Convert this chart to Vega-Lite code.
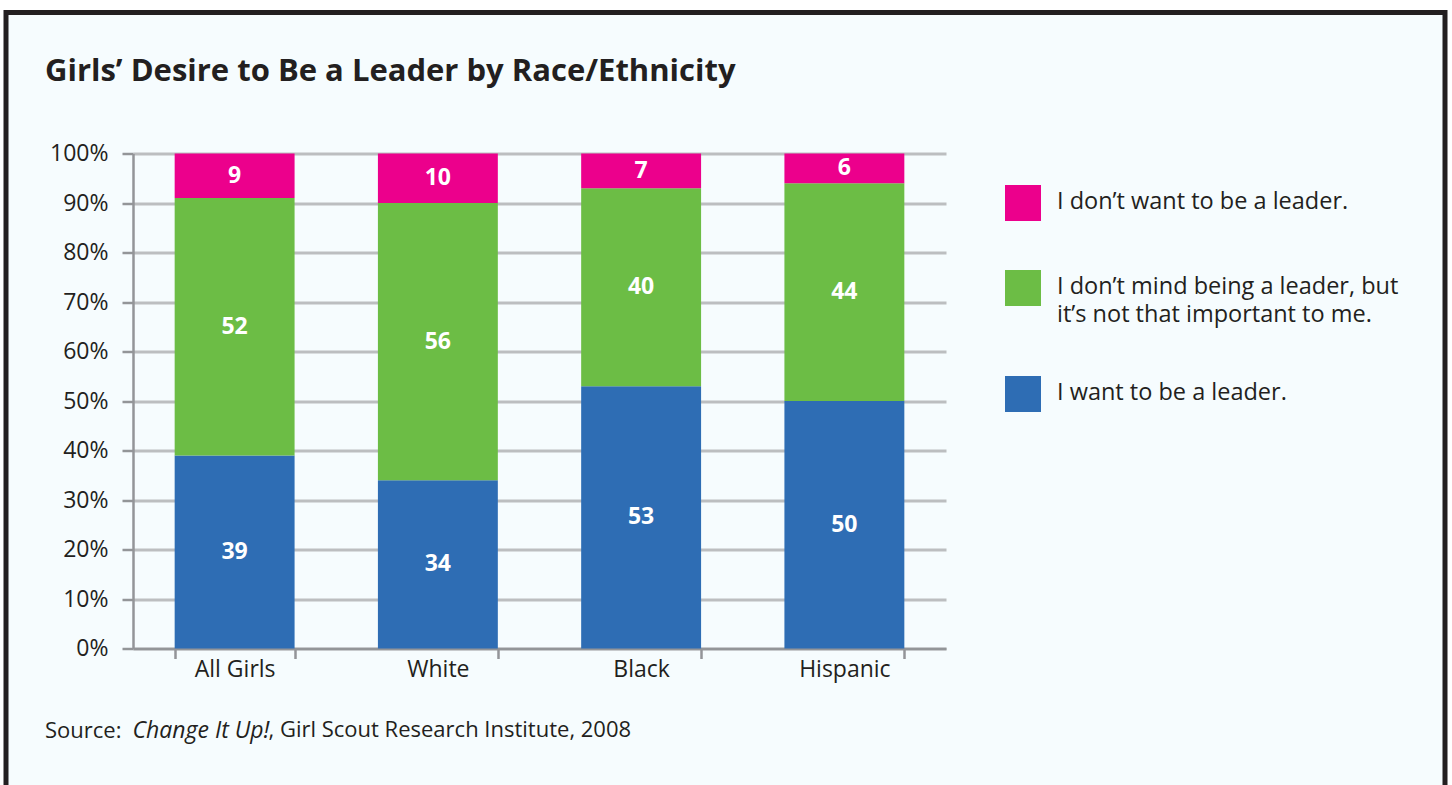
{
  "$schema": "https://vega.github.io/schema/vega-lite/v6.json",
  "width": 1439,
  "height": 790,
  "autosize": {"type": "none"},
  "padding": {"left": 6, "top": 12.5, "right": 7, "bottom": 0},
  "background": "white",
  "title": {
    "text": "Girls’ Desire to Be a Leader by Race/Ethnicity",
    "subtitle": "Source:",
    "anchor": "start",
    "frame": "group",
    "baseline": "alphabetic",
    "offset": 0,
    "dx": 39,
    "dy": 754,
    "font": "Open Sans",
    "fontSize": 31,
    "fontWeight": "bold",
    "color": "#231f20",
    "subtitleFont": "Open Sans",
    "subtitleFontSize": 22,
    "subtitleColor": "#231f20",
    "subtitlePadding": 626
  },
  "data": {
    "values": [
      {"group": "All Girls", "answer": "I want to be a leader.", "ord": 1, "value": 39},
      {"group": "All Girls", "answer": "I don’t mind being a leader, but it’s not that important to me.", "ord": 2, "value": 52},
      {"group": "All Girls", "answer": "I don’t want to be a leader.", "ord": 3, "value": 9},
      {"group": "White", "answer": "I want to be a leader.", "ord": 1, "value": 34},
      {"group": "White", "answer": "I don’t mind being a leader, but it’s not that important to me.", "ord": 2, "value": 56},
      {"group": "White", "answer": "I don’t want to be a leader.", "ord": 3, "value": 10},
      {"group": "Black", "answer": "I want to be a leader.", "ord": 1, "value": 53},
      {"group": "Black", "answer": "I don’t mind being a leader, but it’s not that important to me.", "ord": 2, "value": 40},
      {"group": "Black", "answer": "I don’t want to be a leader.", "ord": 3, "value": 7},
      {"group": "Hispanic", "answer": "I want to be a leader.", "ord": 1, "value": 50},
      {"group": "Hispanic", "answer": "I don’t mind being a leader, but it’s not that important to me.", "ord": 2, "value": 44},
      {"group": "Hispanic", "answer": "I don’t want to be a leader.", "ord": 3, "value": 6}
    ]
  },
  "encoding": {
    "x": {
      "field": "group",
      "type": "nominal",
      "sort": ["All Girls", "White", "Black", "Hispanic"],
      "scale": {"range": [127, 940], "paddingInner": 0.41, "paddingOuter": 0.205},
      "axis": {
        "title": ", Girl Scout Research Institute, 2008",
        "offset": -154,
        "titleFont": "Open Sans",
        "titleFontSize": 22,
        "titleFontWeight": "normal",
        "titleColor": "#231f20",
        "titleAnchor": "start",
        "titleAlign": "left",
        "titleBaseline": "alphabetic",
        "titleX": 262,
        "titleY": 88,
        "labelAngle": 0,
        "labelFont": "Open Sans",
        "labelFontSize": 23,
        "labelColor": "#231f20",
        "labelPadding": 0,
        "tickBand": "extent",
        "tickSize": 10,
        "tickColor": "#939598",
        "tickWidth": 2.5,
        "domainColor": "#939598",
        "domainWidth": 2.5,
        "grid": false
      }
    },
    "y": {
      "field": "value",
      "type": "quantitative",
      "stack": "zero",
      "scale": {"domain": [0, 100], "nice": false, "range": [636, 141]},
      "axis": {
        "title": "Change It Up!",
        "titleFont": "Open Sans",
        "titleFontSize": 23,
        "titleFontWeight": "normal",
        "titleFontStyle": "italic",
        "titleColor": "#231f20",
        "titleAngle": 0,
        "titleAnchor": "start",
        "titleAlign": "left",
        "titleBaseline": "alphabetic",
        "titleX": -1,
        "titleY": 724.5,
        "offset": -127,
        "values": [0, 10, 20, 30, 40, 50, 60, 70, 80, 90, 100],
        "labelExpr": "datum.value + '%'",
        "labelFont": "Open Sans",
        "labelFontSize": 23,
        "labelColor": "#231f20",
        "labelPadding": 14,
        "tickSize": 11,
        "tickColor": "#939598",
        "tickWidth": 2.5,
        "domainColor": "#939598",
        "domainWidth": 2.5,
        "grid": true,
        "gridColor": "#bcbec0",
        "gridWidth": 3
      }
    },
    "order": {"field": "ord", "type": "quantitative"}
  },
  "layer": [
    {
      "mark": {"type": "bar"},
      "encoding": {
        "color": {
          "field": "answer",
          "type": "nominal",
          "scale": {
            "domain": ["I don’t want to be a leader.", "I don’t mind being a leader, but it’s not that important to me.", "I want to be a leader."],
            "range": ["#ec008c", "#6cbd45", "#2e6db4"]
          },
          "legend": {
            "title": null,
            "orient": "none",
            "legendX": 999,
            "legendY": 172.5,
            "padding": 0,
            "symbolType": "square",
            "symbolSize": 1296,
            "symbolStrokeWidth": 0,
            "symbolOpacity": 1,
            "labelFont": "Open Sans",
            "labelFontSize": 23.5,
            "labelColor": "#231f20",
            "labelOffset": 16,
            "labelLimit": 600,
            "labelBaseline": "top",
            "rowPadding": 49,
            "labelExpr": "datum.label == 'I don’t mind being a leader, but it’s not that important to me.' ? ['I don’t mind being a leader, but', 'it’s not that important to me.'] : datum.label",
            "encode": {
              "labels": {"update": {"dy": {"value": -13}, "lineHeight": {"value": 28}}}
            }
          }
        }
      }
    },
    {
      "mark": {"type": "text", "font": "Open Sans", "fontSize": 23, "fontWeight": "bold", "color": "white", "baseline": "middle"},
      "encoding": {
        "y": {"field": "value", "type": "quantitative", "stack": "zero", "bandPosition": 0.5},
        "text": {"field": "value", "type": "quantitative"},
        "detail": {"field": "answer", "type": "nominal"}
      }
    }
  ],
  "config": {
    "view": {"stroke": "#231f20", "strokeWidth": 5, "fill": "#f6fcfe"}
  }
}
